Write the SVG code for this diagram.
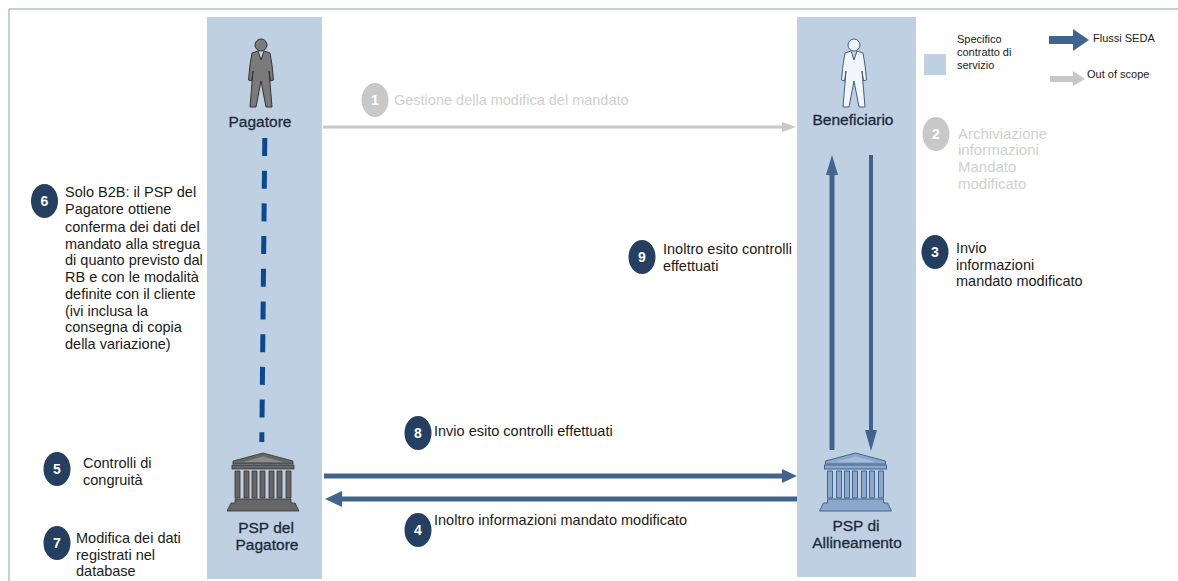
<svg xmlns="http://www.w3.org/2000/svg" width="1178" height="581" viewBox="0 0 1178 581">
<style>
text{font-family:"Liberation Sans",Arial,sans-serif;font-size:14.500px;fill:#1a1a1a}
.lane{fill:#bfd0e3}
.b{fill:#243f60}
.g{fill:#c8c8c8}
.nw{font-size:14px;font-weight:bold;fill:#fff;text-anchor:middle}
.gt{fill:#d0d0d0}
.gt2{fill:#d0d0d0;font-size:15px}
.lab{font-size:15.500px;fill:#1a2a3a;stroke:#1a2a3a;stroke-width:.3;text-anchor:middle}
.blue{stroke:#41648f;fill:none;stroke-width:5}
.gray{stroke:#c8c8c8;fill:none;stroke-width:3}
.legend{font-size:11px}
</style>
<defs>
<g id="bank">
<path d="M-30 8L0 0L30 8V11H-30Z"/>
<path d="M-20 9L0 3.500L20 9Z" fill="#fff" fill-opacity=".25" stroke="none"/>
<rect x="-31" y="12" width="62" height="4"/>
<path d="M-28 18h5v27h-5zM-19 18h5v27h-5zM-11 18h5v27h-5zM-3 18h5v27h-5zM6 18h5v27h-5zM14 18h5v27h-5zM23 18h5v27h-5z"/>
<path d="M-28 46H28V50H32L36 58H-36L-32 50H-28Z"/>
</g>
<path id="person" d="M-3 6L0 15L3 6L9 8L11 20L12.500 35L9.500 36L8 26L11 62H5L0 36L-5 62H-11L-8 26L-9.500 36L-12.500 35L-11 20L-9 8Z"/>
</defs>
<rect width="1178" height="581" fill="#fff"/>
<path d="M9 9H1178M9 9V581" stroke="#a9c0da" stroke-width="1.500" fill="none"/>
<g id="lane-pagatore"><rect class="lane" x="207" y="17" width="115" height="562"/></g>
<g id="lane-beneficiario"><rect class="lane" x="797" y="17" width="119" height="560"/></g>
<g id="connectors">
<path d="M264.800 138L261.800 442" stroke="#0a4a8c" stroke-width="5" stroke-dasharray="18 14.700" fill="none"/>
<path class="gray" d="M323 127H785"/><path class="g" d="M782 122L796 127L782 132Z"/>
<path class="blue" d="M324 476H785"/><path fill="#41648f" d="M782 469L797 476L782 483Z"/>
<path class="blue" d="M797 499H340"/><path fill="#41648f" d="M342 491L325 499L342 507Z"/>
<path d="M832 450V172" stroke="#41648f" stroke-width="5" fill="none"/><path fill="#41648f" d="M826 175L832 155L838 175Z"/>
<path d="M871 155V432" stroke="#41648f" stroke-width="4" fill="none"/><path fill="#41648f" d="M865 430H877L871 451Z"/>
</g>
<g id="node-pagatore"><circle cx="261" cy="45" r="6" fill="#7a7a7a" stroke="#333"/><use href="#person" x="261" y="45" fill="#7a7a7a" stroke="#333"/><text class="lab" x="260" y="127">Pagatore</text></g>
<g id="node-beneficiario"><circle cx="854" cy="45" r="6" fill="#f2f6fa" stroke="#3f5f85"/><use href="#person" x="854" y="45" fill="#f2f6fa" stroke="#3f5f85"/><text class="lab" x="853" y="125">Beneficiario</text></g>
<g id="node-psp-pagatore"><use href="#bank" x="263" y="453" fill="#666" stroke="#333" stroke-width=".8"/><text class="lab" x="266" y="533">PSP del</text><text class="lab" x="267" y="550">Pagatore</text></g>
<g id="node-psp-allineamento"><use href="#bank" x="855.500" y="453" fill="#8ba8cb" stroke="#41648f"/><text class="lab" x="856" y="531">PSP di</text><text class="lab" x="857" y="548">Allineamento</text></g>
<g id="step-1"><ellipse class="g" cx="375" cy="100" rx="13.500" ry="17"/><text class="nw" x="375" y="105">1</text><text class="gt" x="394" y="105">Gestione della modifica del mandato</text></g>
<g id="step-2"><ellipse class="g" cx="936" cy="134" rx="13.500" ry="17"/><text class="nw" x="936" y="139">2</text><text class="gt2" x="958" y="139">Archiviazione</text><text class="gt2" x="958" y="155">informazioni</text><text class="gt2" x="958" y="172">Mandato</text><text class="gt2" x="958" y="189">modificato</text></g>
<g id="step-3"><ellipse class="b" cx="935" cy="252" rx="13.500" ry="17"/><text class="nw" x="935" y="257">3</text><text x="956" y="253">Invio</text><text x="956" y="270">informazioni</text><text x="956" y="286">mandato modificato</text></g>
<g id="step-4"><ellipse class="b" cx="418" cy="530" rx="13.500" ry="17"/><text class="nw" x="418" y="535">4</text><text x="434" y="525">Inoltro informazioni mandato modificato</text></g>
<g id="step-5"><ellipse class="b" cx="57" cy="469" rx="13.500" ry="17"/><text class="nw" x="57" y="474">5</text><text x="83" y="468">Controlli di</text><text x="83" y="485">congruità</text></g>
<g id="step-6"><ellipse class="b" cx="44.500" cy="201" rx="13.500" ry="17"/><text class="nw" x="44.500" y="206">6</text>
<text x="65" y="197">Solo B2B: il PSP  del</text><text x="65" y="214">Pagatore ottiene</text><text x="65" y="232">conferma dei dati del</text><text x="65" y="249">mandato alla stregua</text><text x="65" y="265">di quanto previsto dal</text><text x="65" y="282">RB e con le modalità</text><text x="65" y="299">definite con il cliente</text><text x="65" y="316">(ivi inclusa la</text><text x="65" y="332">consegna di copia</text><text x="65" y="349">della variazione)</text></g>
<g id="step-7"><ellipse class="b" cx="57" cy="543" rx="13.500" ry="17"/><text class="nw" x="57" y="548">7</text><text x="76" y="543">Modifica dei dati</text><text x="76" y="560">registrati nel</text><text x="76" y="576">database</text></g>
<g id="step-8"><ellipse class="b" cx="418" cy="433" rx="13.500" ry="17"/><text class="nw" x="418" y="438">8</text><text x="434" y="436">Invio esito controlli effettuati</text></g>
<g id="step-9"><ellipse class="b" cx="642" cy="257" rx="13.500" ry="17"/><text class="nw" x="642" y="262">9</text><text x="663" y="254">Inoltro esito controlli</text><text x="663" y="271">effettuati</text></g>
<g id="legend">
<rect class="lane" x="924" y="54" width="22" height="21"/>
<text class="legend" x="957" y="43">Specifico</text><text class="legend" x="957" y="56">contratto di</text><text class="legend" x="957" y="69">servizio</text>
<path fill="#41648f" d="M1049 36H1073V29L1089 40L1073 51V44H1049Z"/><text class="legend" x="1093" y="42">Flussi SEDA</text>
<path fill="#c8c8c8" d="M1050 76H1073V71L1085 79L1073 86V82H1050Z"/><text class="legend" x="1087" y="78">Out of scope</text>
</g>
</svg>
